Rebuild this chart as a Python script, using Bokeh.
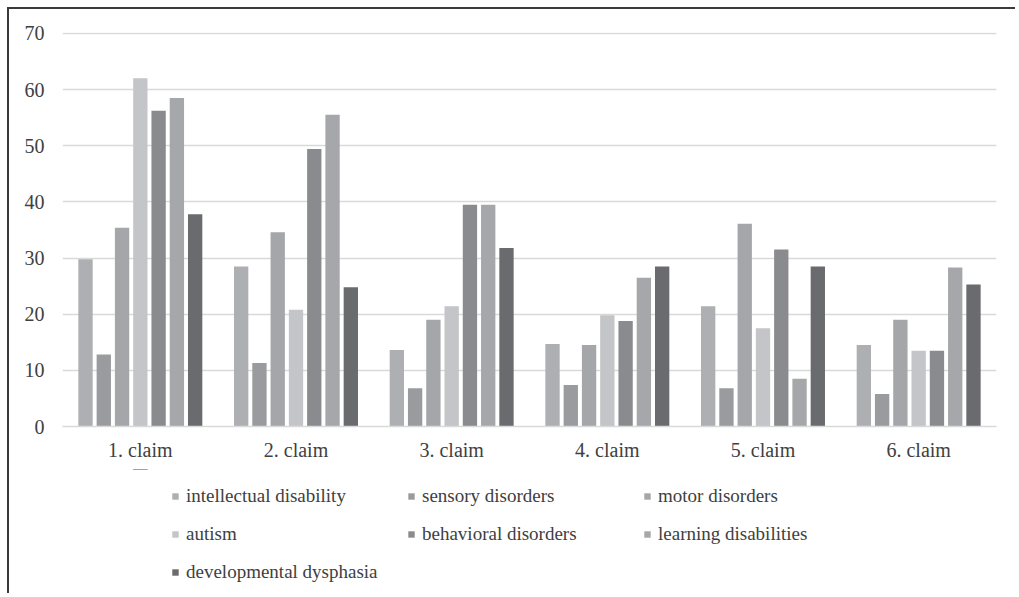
from bokeh.plotting import figure
from bokeh.layouts import column
from bokeh.models import (ColumnDataSource, Legend, LegendItem, FactorRange, Range1d,
                          FixedTicker, CDSView, IndexFilter)
from bokeh.transform import dodge
from bokeh.embed import file_html
from bokeh.resources import INLINE

claims = ["1. claim", "2. claim", "3. claim", "4. claim", "5. claim", "6. claim"]
series_names = ["intellectual disability", "sensory disorders", "motor disorders",
                "autism", "behavioral disorders", "learning disabilities",
                "developmental dysphasia"]
intellectual = [29.8, 28.5, 13.6, 14.7, 21.4, 14.5]
sensory = [12.8, 11.3, 6.8, 7.4, 6.8, 5.8]
motor = [35.4, 34.6, 19.0, 14.5, 36.1, 19.0]
autism = [62.0, 20.8, 21.4, 19.8, 17.5, 13.5]
behavioral = [56.2, 49.4, 39.5, 18.8, 31.5, 13.5]
learning = [58.5, 55.5, 39.5, 26.5, 8.5, 28.3]
dysphasia = [37.8, 24.8, 31.8, 28.5, 28.5, 25.3]
y_ticks = [0, 10, 20, 30, 40, 50, 60, 70]

colors = ["#AEAFB2", "#9A9B9E", "#A5A6A9", "#C4C5C8", "#8A8B8E", "#A6A7AA", "#6A6B6F"]
keys = ["intellectual", "sensory", "motor", "autism", "behavioral", "learning", "dysphasia"]
values = [intellectual, sensory, motor, autism, behavioral, learning, dysphasia]

data = {"claim": claims}
for k, v in zip(keys, values):
    data[k] = v
source = ColumnDataSource(data)

FONT = "Liberation Serif"
TXT = "#404040"

# ---- main chart ----
x_range = FactorRange(*claims)
p = figure(x_range=x_range, y_range=Range1d(0, 70.15),
           width=1008, height=460, output_backend="svg", toolbar_location=None,
           min_border_left=53, min_border_right=21, min_border_top=23, min_border_bottom=43)
p.outline_line_color = None
p.background_fill_color = "white"
p.border_fill_color = "white"

pitch = 0.1174
bw = 0.092
for i, (k, c) in enumerate(zip(keys, colors)):
    p.vbar(x=dodge("claim", (i - 3) * pitch, range=x_range), top=k, width=bw,
           source=source, fill_color=c, line_color=None)

p.xgrid.grid_line_color = None
p.ygrid.grid_line_color = "#D9D9D9"
p.ygrid.grid_line_width = 1.5
p.yaxis.ticker = FixedTicker(ticks=y_ticks)
p.yaxis.axis_line_color = None
p.yaxis.major_tick_line_color = None
p.yaxis.minor_tick_line_color = None
p.yaxis.major_tick_out = 0
p.yaxis.major_tick_in = 0
p.yaxis.major_label_standoff = 18
p.xaxis.axis_line_color = "#D9D9D9"
p.xaxis.axis_line_width = 1.5
p.xaxis.major_tick_line_color = None
p.xaxis.major_tick_out = 0
p.xaxis.major_tick_in = 0
p.xaxis.major_label_standoff = 12
for ax in (p.xaxis, p.yaxis):
    ax.major_label_text_font = FONT
    ax.major_label_text_font_size = "20px"
    ax.major_label_text_color = TXT

# ---- legend strip: zero-height bars outside its value range, so only the
# legend swatches are shown ----
p2 = figure(x_range=x_range, y_range=Range1d(-2, -1),
            width=1008, height=126, output_backend="svg", toolbar_location=None,
            x_axis_location=None, y_axis_location=None,
            min_border_left=0, min_border_right=0, min_border_top=0, min_border_bottom=0)
p2.outline_line_color = None
p2.grid.visible = False
p2.background_fill_color = "white"
p2.border_fill_color = "white"

first_view = CDSView(filter=IndexFilter(indices=[0]))
items = []
for k, name, c in zip(keys, series_names, colors):
    r = p2.vbar(x="claim", top=k, bottom=k, width=bw, source=source, view=first_view,
                fill_color=c, line_color=None)
    items.append(LegendItem(label=name, renderers=[r]))

legend = Legend(items=items, orientation="horizontal", ncols=3, location=(109, 7))
legend.border_line_color = None
legend.background_fill_alpha = 0
legend.padding = 0
legend.margin = 0
legend.spacing = 5
legend.glyph_width = 8
legend.glyph_height = 8
legend.label_standoff = 7
legend.label_width = 216
legend.label_height = 33
legend.label_text_font = FONT
legend.label_text_font_size = "19px"
legend.label_text_color = TXT
p2.add_layout(legend, "center")

layout = column(p, p2, spacing=0)
layout.margin = (9, 0, 0, 9)
layout.styles = {"box-shadow": "-2px -2px 0px 0px #3a3a3a"}

open("out.html", "w").write(file_html(layout, INLINE))
